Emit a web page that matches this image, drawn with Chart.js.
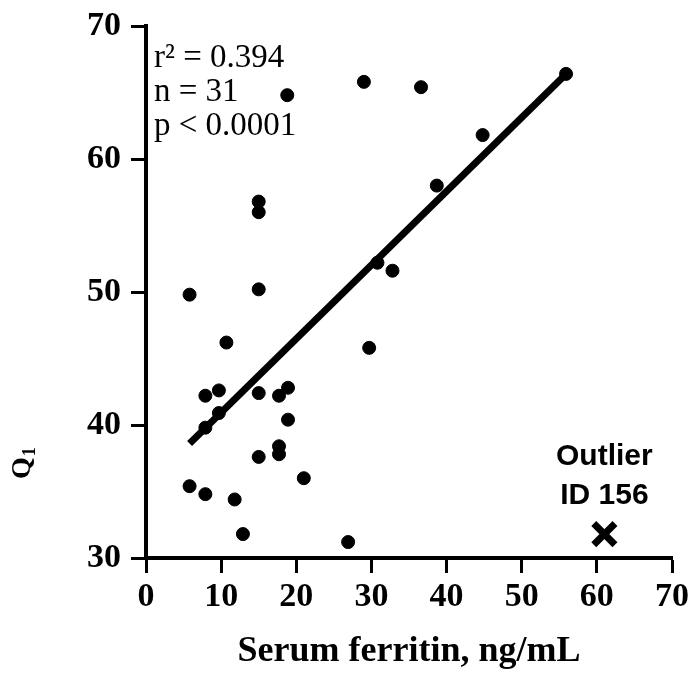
<!DOCTYPE html>
<html>
<head>
<meta charset="utf-8">
<script src="https://cdn.jsdelivr.net/npm/chart.js@4/dist/chart.umd.min.js"></script>
<style>
  html, body { margin: 0; padding: 0; background: #fff; }
  #wrap { width: 694px; height: 673px; }
</style>
</head>
<body>
<div id="wrap"><canvas id="ferritinChart"></canvas></div>
<script>
// serum ferritin (ng/mL) vs Q1
const ferritin = [5.8, 15.0, 10.7, 29.7, 7.9, 9.7, 15.0, 17.7, 18.9, 9.7, 7.9, 18.9, 17.7, 17.7, 15.0, 21.0,
    5.8, 7.9, 11.8, 12.9, 26.9, 18.8, 29.0, 36.6, 15.0, 15.0, 30.8, 32.8, 44.8, 38.7, 55.9];
const q1 = [49.8, 50.2, 46.2, 45.8, 42.2, 42.6, 42.4, 42.2, 42.8, 40.9, 39.8, 40.4, 38.4, 37.8, 37.6, 36.0,
    35.4, 34.8, 34.4, 31.8, 31.2, 64.8, 65.8, 65.4, 56.8, 56.0, 52.2, 51.6, 61.8, 58.0, 66.4];

const fitX = [5.8, 55.9];
const fitY = [38.6, 66.4];

const outlierX = [61.0];
const outlierY = [31.8];

const statsLines = ['r\u00B2 = 0.394', 'n = 31', 'p < 0.0001'];
const outlierLabel = ['Outlier', 'ID 156'];

const xTicks = [0, 10, 20, 30, 40, 50, 60, 70];
const yTicks = [30, 40, 50, 60, 70];

const serif = "'Liberation Serif', 'Times New Roman', serif";
const sans = "'Liberation Sans', Arial, sans-serif";

const textPlugin = {
    id: 'textPlugin',
    afterDraw(chart) {
        const ctx = chart.ctx;
        const area = chart.chartArea;
        ctx.save();
        ctx.fillStyle = '#000';
        ctx.textBaseline = 'middle';
        ctx.textAlign = 'left';
        ctx.font = '33px ' + serif;
        statsLines.forEach((t, i) => ctx.fillText(t, area.left + 8, area.top + 32 + i * 34));

        // outlier note sits above the cross
        const xs = chart.scales.x, ys = chart.scales.y;
        const px = xs.getPixelForValue(outlierX[0]);
        const py = ys.getPixelForValue(outlierY[0]);
        ctx.textAlign = 'center';
        ctx.font = 'bold 30px ' + sans;
        ctx.fillText(outlierLabel[0], px, py - 77);
        ctx.fillText(outlierLabel[1], px, py - 38);

        // y title: Q with subscript 1, rotated
        ctx.translate(30, 479);
        ctx.rotate(-Math.PI / 2);
        ctx.textAlign = 'left';
        ctx.textBaseline = 'alphabetic';
        ctx.font = 'bold 28px ' + serif;
        ctx.fillText('Q', 0, 0);
        const qw = ctx.measureText('Q').width;
        ctx.font = 'bold 18px ' + serif;
        ctx.fillText('1', qw + 1, 5);
        ctx.restore();
    }
};

const points = ferritin.map((x, i) => ({ x: x, y: q1[i] }));

new Chart(document.getElementById('ferritinChart').getContext('2d'), {
    type: 'scatter',
    data: {
        datasets: [
            {
                label: 'fit',
                type: 'line',
                data: fitX.map((x, i) => ({ x: x, y: fitY[i] })),
                borderColor: '#000',
                borderWidth: 7,
                pointRadius: 0,
                fill: false
            },
            {
                label: 'subjects',
                data: points,
                backgroundColor: '#000',
                borderColor: '#000',
                pointRadius: 6.5
            },
            {
                label: 'outlier',
                data: outlierX.map((x, i) => ({ x: x, y: outlierY[i] })),
                pointStyle: 'crossRot',
                pointRadius: 15,
                borderColor: '#000',
                borderWidth: 7
            }
        ]
    },
    options: {
        responsive: true,
        maintainAspectRatio: false,
        animation: false,
        layout: { padding: { top: 26, right: 20, left: 0, bottom: 0 } },
        plugins: {
            legend: { display: false },
            tooltip: { enabled: false }
        },
        scales: {
            x: {
                type: 'linear',
                min: 0,
                max: 70,
                afterBuildTicks: s => { s.ticks = xTicks.map(v => ({ value: v })); },
                afterFit: s => { s.height = 115; s.paddingLeft = 0; s.paddingRight = 0; },
                border: { display: true, width: 4, color: '#000' },
                grid: { drawOnChartArea: false, drawTicks: true, tickLength: 15, tickWidth: 3, tickColor: '#000' },
                ticks: { color: '#000', padding: 4, font: { family: serif, size: 34, weight: 'bold' } },
                title: {
                    display: true,
                    text: 'Serum ferritin, ng/mL',
                    color: '#000',
                    font: { family: serif, size: 36, weight: 'bold' },
                    padding: { top: 0, bottom: 0 }
                }
            },
            y: {
                type: 'linear',
                min: 30,
                max: 70,
                afterBuildTicks: s => { s.ticks = yTicks.map(v => ({ value: v })); },
                afterFit: s => { s.width = 146; s.paddingTop = 0; s.paddingBottom = 0; },
                border: { display: true, width: 4, color: '#000' },
                grid: { drawOnChartArea: false, drawTicks: true, tickLength: 15, tickWidth: 3, tickColor: '#000' },
                ticks: { color: '#000', padding: 10, font: { family: serif, size: 34, weight: 'bold' } },
                title: { display: false }
            }
        }
    },
    plugins: [textPlugin]
});
</script>
</body>
</html>
